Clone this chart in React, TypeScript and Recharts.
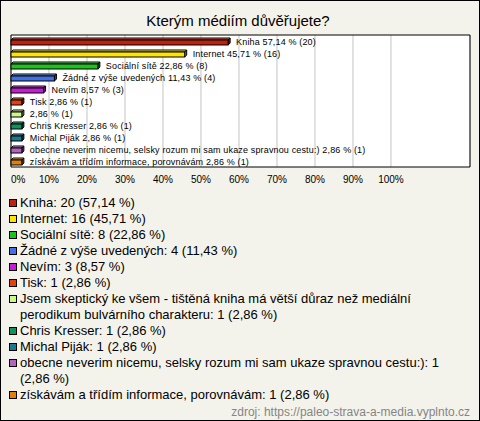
import React from 'react';
import { BarChart, Bar, XAxis, YAxis, CartesianGrid, ReferenceArea, LabelList, Cell } from 'recharts';

const categories = [
  'Kniha',
  'Internet',
  'Sociální sítě',
  'Žádné z výše uvedených',
  'Nevím',
  'Tisk',
  'Jsem skeptický ke všem - tištěná kniha má větší důraz než mediální perodikum bulvárního charakteru',
  'Chris Kresser',
  'Michal Piják',
  'obecne neverim nicemu, selsky rozum mi sam ukaze spravnou cestu:)',
  'získávám a třídím informace, porovnávám',
];
// the long answer is shown without its name next to the bar
const barNames = [
  'Kniha', 'Internet', 'Sociální sítě', 'Žádné z výše uvedených', 'Nevím', 'Tisk', '',
  'Chris Kresser', 'Michal Piják',
  'obecne neverim nicemu, selsky rozum mi sam ukaze spravnou cestu:)',
  'získávám a třídím informace, porovnávám',
];
const counts = [20, 16, 8, 4, 3, 1, 1, 1, 1, 1, 1];
const percents = [57.14, 45.71, 22.86, 11.43, 8.57, 2.86, 2.86, 2.86, 2.86, 2.86, 2.86];
const colors = [
  '#c0200c', '#ffe400', '#1ec21e', '#4272e2', '#c21ed2', '#e2400e',
  '#ccf888', '#12925a', '#1c7890', '#b462c4', '#e2800e',
];
const ticks = [0, 10, 20, 30, 40, 50, 60, 70, 80, 90, 100];
const X_MAX = 120.8;

const fmt = (v: number) => v.toFixed(2).replace('.', ',');

const data = categories.map((name, i) => ({
  name,
  value: percents[i],
  label: `${barNames[i] ? barNames[i] + ' ' : ''}${fmt(percents[i])} % (${counts[i]})`,
}));

const shade = (hex: string, f: number) => {
  const n = parseInt(hex.slice(1), 16);
  const ch = [(n >> 16) & 255, (n >> 8) & 255, n & 255].map((c) =>
    Math.round(f > 0 ? c + (255 - c) * f : c * (1 + f))
  );
  return `rgb(${ch.join(',')})`;
};

const Bar3D = (props: any) => {
  const { x, y, width, height, fill } = props;
  const d = 2;
  const w = Math.max(width, 1);
  const fy = y + d;
  const fh = height - d;
  return (
    <g stroke="#000" strokeWidth={1}>
      <polygon
        points={`${x},${fy} ${x + d},${y} ${x + w + d},${y} ${x + w},${fy}`}
        fill={shade(fill, 0.35)}
      />
      <polygon
        points={`${x + w},${fy} ${x + w + d},${y} ${x + w + d},${y + fh} ${x + w},${fy + fh}`}
        fill={shade(fill, -0.35)}
      />
      <rect x={x} y={fy} width={w} height={fh} fill={fill} />
    </g>
  );
};

const BarLabel = (props: any) => {
  const vb = props.viewBox || {};
  const x = props.x ?? vb.x;
  const y = props.y ?? vb.y;
  const width = props.width ?? vb.width;
  const height = props.height ?? vb.height;
  return (
    <text
      x={x + width + 8}
      y={y + height / 2}
      dy="0.35em"
      fontSize={9}
      letterSpacing={0.15}
      fill="#000"
      textAnchor="start"
    >
      {props.value}
    </text>
  );
};

const Tick = (props: any) => {
  const { x, y, payload } = props;
  return (
    <text
      x={x}
      y={y + 1}
      dy="0.71em"
      textAnchor={payload.value === 0 ? 'start' : 'middle'}
      fontSize={10}
      fill="#000"
    >
      {payload.value}%
    </text>
  );
};

export default function App() {
  return (
    <div
      style={{
        position: 'absolute',
        left: 0,
        top: 0,
        width: 480,
        height: 421,
        background: '#f4f3eb',
        fontFamily: '"Liberation Sans", Arial, sans-serif',
        overflow: 'hidden',
      }}
    >
      <div
        style={{
          position: 'absolute',
          left: 0,
          top: 11,
          width: 476,
          textAlign: 'center',
          fontSize: 15,
          lineHeight: '20px',
          color: '#000',
        }}
      >
        Kterým médiím důvěřujete?
      </div>

      <div style={{ position: 'absolute', left: 0, top: 0 }}>
        <BarChart
          width={480}
          height={190}
          data={data}
          layout="vertical"
          margin={{ top: 35, right: 10, left: 11, bottom: 3 }}
          barCategoryGap={0}
        >
          <CartesianGrid horizontal={false} stroke="#c4c4c4" fill="#fff" />
          <XAxis
            type="number"
            domain={[0, X_MAX]}
            ticks={ticks}
            axisLine={false}
            tickLine={false}
            tick={<Tick />}
            height={20}
            interval={0}
          />
          <YAxis type="category" dataKey="name" hide />
          <ReferenceArea x1={0} x2={X_MAX} fill="none" stroke="#000" strokeWidth={1} fillOpacity={0} strokeOpacity={1} />
          <Bar dataKey="value" barSize={7} shape={<Bar3D />} isAnimationActive={false}>
            {data.map((_, i) => (
              <Cell key={`c-${i}`} fill={colors[i]} />
            ))}
            <LabelList dataKey="label" content={<BarLabel />} />
          </Bar>
        </BarChart>
      </div>

      <div
        style={{
          position: 'absolute',
          left: 9,
          top: 195,
          width: 452,
          fontSize: 13,
          lineHeight: '16px',
          color: '#000',
        }}
      >
        {categories.map((name, i) => (
          <div key={name} style={{ position: 'relative', paddingLeft: 11 }}>
            <span
              style={{
                position: 'absolute',
                left: 0,
                top: 4,
                width: 6,
                height: 6,
                border: '1px solid #000',
                background: colors[i],
              }}
            />
            {`${name}: ${counts[i]} (${fmt(percents[i])} %)`}
          </div>
        ))}
      </div>

      <div
        style={{
          position: 'absolute',
          right: 10,
          top: 404,
          fontSize: 12,
          lineHeight: '16px',
          color: '#858585',
        }}
      >
        zdroj: https://paleo-strava-a-media.vyplnto.cz
      </div>

      <div
        style={{
          position: 'absolute',
          left: 0,
          top: 0,
          width: 480,
          height: 421,
          boxSizing: 'border-box',
          border: '1px solid #000',
          pointerEvents: 'none',
        }}
      />
    </div>
  );
}
